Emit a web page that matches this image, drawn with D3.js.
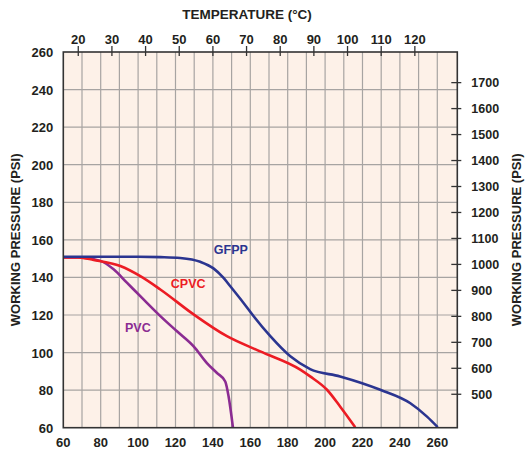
<!DOCTYPE html>
<html>
<head>
<meta charset="utf-8">
<script src="https://cdn.jsdelivr.net/npm/d3@7"></script>
<style>
  body { margin: 0; background: #fff; }
  svg text { font-family: "Liberation Sans", Arial, Helvetica, sans-serif; font-weight: bold; fill: #231f20; }
</style>
</head>
<body>
<div id="chart"></div>
<script>
// data: temperature (°F) vs working pressure (psi)
let gfppTemp = [60, 80, 100, 112, 122.5, 133.2, 140.3, 145.7, 149.3, 156.4, 161.8, 170.7, 181.4, 192, 208, 229.5, 245.6, 254.5, 260.2];
let gfppPsi  = [151, 151, 151, 150.8, 150.3, 148.3, 144.8, 139.7, 135.3, 126.4, 119.3, 108.7, 98, 91.2, 87.3, 80.2, 73, 65.9, 60.3];

let cpvcTemp = [60, 68, 76.2, 90.5, 101.2, 111.9, 129.7, 147.5, 165.3, 186.7, 192, 201, 208.1, 216.1];
let cpvcPsi  = [150.6, 150.6, 149.3, 146.1, 140.7, 133.6, 120.3, 108.7, 100.6, 90.9, 87.3, 80.2, 71.2, 60.3];

let pvcTemp = [60, 69, 79.8, 86.9, 94, 102.9, 111.9, 120.8, 129.7, 136.8, 142.2, 146.6, 148.4, 150.7];
let pvcPsi  = [150.6, 150.6, 148.8, 144.3, 137.2, 128.3, 119.4, 111.3, 103.3, 94.4, 89.1, 84.6, 76.6, 60.3];

let bottomTicks = [60, 80, 100, 120, 140, 160, 180, 200, 220, 240, 260];
let topTicksC = [20, 30, 40, 50, 60, 70, 80, 90, 100, 110, 120];
let leftTicks = [60, 80, 100, 120, 140, 160, 180, 200, 220, 240, 260];
let rightTicks = [500, 600, 700, 800, 900, 1000, 1100, 1200, 1300, 1400, 1500, 1600, 1700];

let width = 525, height = 452;
let margin = { left: 63.3, top: 52, right: 67.7, bottom: 24.3 };
let plotWidth = width - margin.left - margin.right;
let plotHeight = height - margin.top - margin.bottom;

let svg = d3.select("#chart").append("svg")
    .attr("width", width)
    .attr("height", height);

let g = svg.append("g")
    .attr("transform", "translate(" + margin.left + "," + margin.top + ")");

// 比例尺
let x = d3.scaleLinear().domain([60, 270.7]).range([0, plotWidth]);
let y = d3.scaleLinear().domain([60, 260]).range([plotHeight, 0]);
let xC = d3.scaleLinear().domain([0, 100]).range([x(32), x(212)]);
let yKpa = d3.scaleLinear().domain([500, 1700]).range([y(77.8), y(243.7)]);

// background
g.append("rect")
    .attr("width", plotWidth)
    .attr("height", plotHeight)
    .attr("fill", "#fdf1e8");

// grid
let vGrid = d3.range(70, 270, 10);
g.selectAll(".vgrid").data(vGrid).enter().append("line")
    .attr("x1", d => x(d)).attr("x2", d => x(d))
    .attr("y1", 0).attr("y2", plotHeight)
    .attr("stroke", "#a7a4a2").attr("stroke-width", 1.2);

g.selectAll(".hgrid").data(leftTicks.slice(1, -1)).enter().append("line")
    .attr("x1", 0).attr("x2", plotWidth)
    .attr("y1", d => y(d)).attr("y2", d => y(d))
    .attr("stroke", "#a7a4a2").attr("stroke-width", 1.2);

// curves
let line = d3.line()
    .x(d => x(d[0]))
    .y(d => y(d[1]))
    .curve(d3.curveMonotoneX);

let series = [
    { temp: pvcTemp, psi: pvcPsi, color: "#8b2c92" },
    { temp: cpvcTemp, psi: cpvcPsi, color: "#ec1c24" },
    { temp: gfppTemp, psi: gfppPsi, color: "#2b3590" }
];

series.forEach(s => {
    g.append("path")
        .datum(s.temp.map((t, i) => [t, s.psi[i]]))
        .attr("fill", "none")
        .attr("stroke", s.color)
        .attr("stroke-width", 2.6)
        .attr("d", line);
});

// border
g.append("rect")
    .attr("width", plotWidth)
    .attr("height", plotHeight)
    .attr("fill", "none")
    .attr("stroke", "#333")
    .attr("stroke-width", 1.6);

// 坐标轴
g.selectAll(".bl").data(bottomTicks).enter().append("text")
    .attr("x", d => x(d))
    .attr("y", plotHeight + 19)
    .attr("text-anchor", "middle")
    .style("font-size", "13px")
    .text(d => d);

g.selectAll(".ll").data(leftTicks).enter().append("text")
    .attr("x", -10)
    .attr("y", d => y(d) + 5)
    .attr("text-anchor", "end")
    .style("font-size", "13px")
    .text(d => d);

g.selectAll(".tt").data(topTicksC).enter().append("line")
    .attr("x1", d => xC(d)).attr("x2", d => xC(d))
    .attr("y1", -6).attr("y2", 4)
    .attr("stroke", "#333").attr("stroke-width", 1.3);

g.selectAll(".tl").data(topTicksC).enter().append("text")
    .attr("x", d => xC(d))
    .attr("y", -8)
    .attr("text-anchor", "middle")
    .style("font-size", "13px")
    .text(d => d);

g.selectAll(".rt").data(rightTicks).enter().append("line")
    .attr("x1", plotWidth - 6).attr("x2", plotWidth + 4)
    .attr("y1", d => yKpa(d)).attr("y2", d => yKpa(d))
    .attr("stroke", "#333").attr("stroke-width", 1.3);

g.selectAll(".rl").data(rightTicks).enter().append("text")
    .attr("x", plotWidth + 14)
    .attr("y", d => yKpa(d) + 4.5)
    .attr("text-anchor", "start")
    .style("font-size", "12.5px")
    .text(d => d);

// 标题
svg.append("text")
    .attr("x", 247)
    .attr("y", 19)
    .attr("text-anchor", "middle")
    .style("font-size", "13.5px")
    .text("TEMPERATURE (°C)");

svg.append("text")
    .attr("transform", "translate(20," + (margin.top + plotHeight / 2) + ") rotate(-90)")
    .attr("text-anchor", "middle")
    .style("font-size", "13px")
    .text("WORKING PRESSURE (PSI)");

svg.append("text")
    .attr("transform", "translate(521," + (margin.top + plotHeight / 2) + ") rotate(-90)")
    .attr("text-anchor", "middle")
    .style("font-size", "13px")
    .text("WORKING PRESSURE (PSI)");

// series labels
let labels = [
    { text: "GFPP", t: 140.5, p: 152.5, color: "#2b3590" },
    { text: "CPVC", t: 117.5, p: 134.5, color: "#ec1c24" },
    { text: "PVC", t: 93, p: 111, color: "#8b2c92" }
];
g.selectAll(".lab").data(labels).enter().append("text")
    .attr("x", d => x(d.t))
    .attr("y", d => y(d.p))
    .style("font-size", "12.5px")
    .style("fill", d => d.color)
    .text(d => d.text);
</script>
</body>
</html>
